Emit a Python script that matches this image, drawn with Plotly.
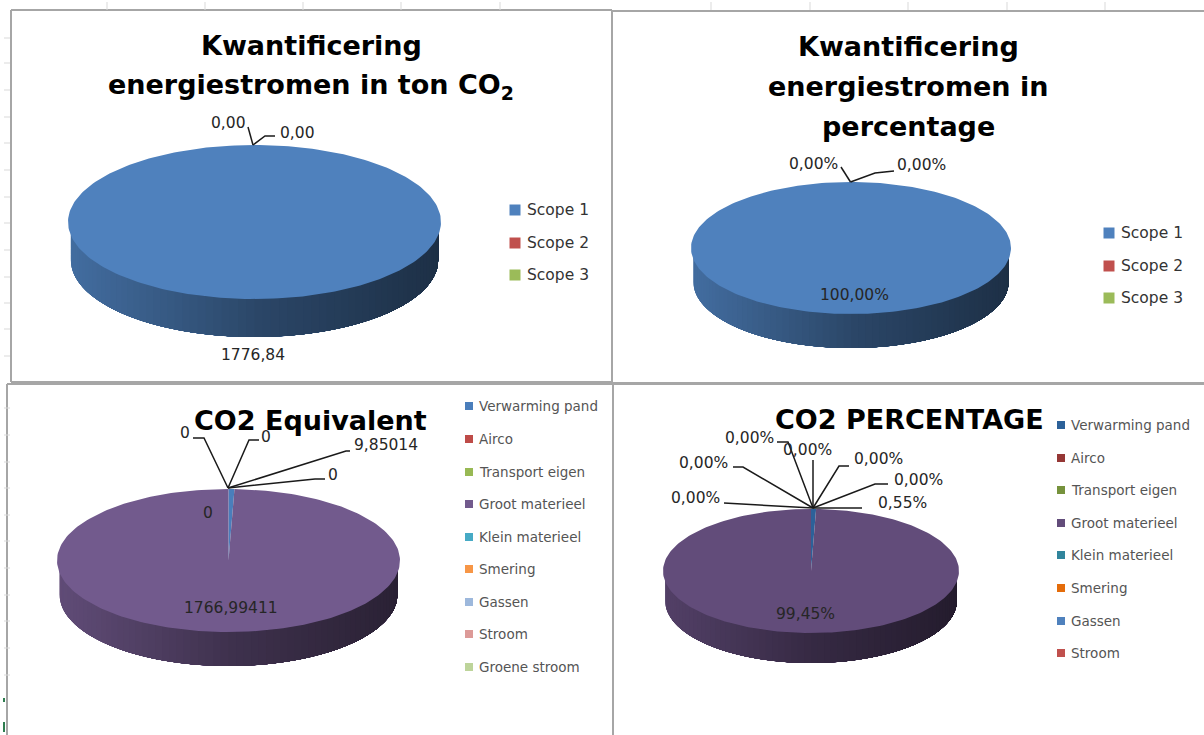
import math
import plotly.graph_objects as go

# ---------- data ----------
scope_labels = ["Scope 1", "Scope 2", "Scope 3"]
scope_tons = [1776.84, 0, 0]
scope_percent = [100.0, 0, 0]
co2_labels = ["Verwarming pand", "Airco", "Transport eigen", "Groot materieel", "Klein materieel",
              "Smering", "Gassen", "Stroom", "Groene stroom"]
co2_values = [9.85014, 0, 0, 1766.99411, 0, 0, 0, 0, 0]
pct_labels = ["Verwarming pand", "Airco", "Transport eigen", "Groot materieel", "Klein materieel",
              "Smering", "Gassen", "Stroom"]
pct_values = [0.55, 0, 0, 99.45, 0, 0, 0, 0]

scope_colors = ["#4F81BD", "#C0504D", "#9BBB59"]
co2_colors = ["#4A7EBB", "#BE4B48", "#98B954", "#725A8D", "#46AAC5", "#F79646", "#9DB8DC", "#DC9A98", "#BDD49A"]
pct_colors = ["#2C6199", "#953735", "#76923C", "#624C7A", "#31859C", "#E46C0A", "#4F81BD", "#C0504D"]

FONT = "DejaVu Sans"
TITLE = 27
LABEL = 15.5
fig = go.Figure()


def hex_rgb(h):
    return tuple(int(h[i:i + 2], 16) for i in (1, 3, 5))


def wall_color(base, t):
    """Shade of the pie wall; t runs 0 (left) to 1 (right)."""
    r = hex_rgb(base)
    f = 0.85 - 0.6 * t if t < 0.5 else 0.55 - 0.36 * (t - 0.5)
    return "rgb(%d,%d,%d)" % tuple(int(c * f) for c in r)


def point(cx, cy, rx, ry, a):
    return cx + rx * math.sin(a), cy - ry * math.cos(a)


def poly(xs, ys, color):
    fig.add_trace(go.Scatter(x=xs, y=ys, mode="lines", fill="toself", fillcolor=color,
                             line=dict(color=color, width=0), hoverinfo="skip", showlegend=False))


def draw_pie(values, colors, cx, cy, rx, ry, depth):
    total = sum(values)
    start = 0.0
    for val, col in zip(values, colors):
        if val <= 0:
            continue
        end = start + val / total * 2 * math.pi
        # front wall: bands painted left to right, each one reaching to the far end, so no seams show
        lo, hi = max(start, math.pi / 2), min(end, 3 * math.pi / 2)
        if hi > lo:
            n = 70
            for i in range(n):
                a0 = hi - (hi - lo) * i / n
                arc = [point(cx, cy, rx * 0.985, ry, a0 - (a0 - lo) * k / 40) for k in range(41)]
                xs = [p[0] for p in arc]
                ys = [p[1] for p in arc]
                t = (arc[0][0] - (cx - rx)) / (2 * rx)
                poly(xs + xs[::-1], ys + [y + depth for y in ys[::-1]], wall_color(col, t))
        start = end
    start = 0.0
    for val, col in zip(values, colors):
        if val <= 0:
            continue
        end = start + val / total * 2 * math.pi
        n = max(2, int((end - start) / (2 * math.pi) * 240))
        pts = [point(cx, cy, rx, ry, start + (end - start) * i / n) for i in range(n + 1)]
        poly([cx] + [p[0] for p in pts] + [cx], [cy] + [p[1] for p in pts] + [cy], col)
        start = end


def text(x, y, s, size=LABEL, color="#262626", bold=False, anchor="center"):
    fig.add_annotation(x=x, y=y, xref="x", yref="y", text=f"<b>{s}</b>" if bold else s, showarrow=False,
                       xanchor=anchor, yanchor="middle",
                       font=dict(family=FONT, size=size, color=color))


def legend(labels, colors, x, ys, size, tcolor, box):
    for lab, col, y in zip(labels, colors, ys):
        fig.add_trace(go.Scatter(x=[x], y=[y], mode="markers", hoverinfo="skip", showlegend=False,
                                 marker=dict(symbol="square", size=box, color=col)))
        text(x + box / 2 + 4, y, lab, size=size, color=tcolor, anchor="left")


def leader(pts):
    fig.add_trace(go.Scatter(x=[p[0] for p in pts], y=[p[1] for p in pts], mode="lines", hoverinfo="skip",
                             showlegend=False, line=dict(color="#1a1a1a", width=1.5)))


def comma(v, d=2):
    return f"{v:.{d}f}".replace(".", ",")


# ---------- panel 1 ----------
draw_pie(scope_tons, scope_colors, 254.5, 222, 186.5, 77, 38)
text(311, 45, "Kwantificering", TITLE, "#000", True)
text(311, 86, "energiestromen in ton CO<sub>2</sub>", TITLE, "#000", True)
leader([(253, 145), (248, 127)])
leader([(253, 145), (265, 136), (275, 136)])
text(228, 123, comma(scope_tons[1]))
text(297, 133, comma(scope_tons[2]))
text(253, 355, comma(scope_tons[0]))
legend(scope_labels, scope_colors, 515, [210, 243, 275], 15.5, "#333", 11)

# ---------- panel 2 ----------
draw_pie(scope_percent, scope_colors, 851, 248, 160, 66, 34)
text(908, 46, "Kwantificering", TITLE, "#000", True)
text(908, 86, "energiestromen in", TITLE, "#000", True)
text(908, 126, "percentage", TITLE, "#000", True)
leader([(850.5, 182), (841, 167)])
leader([(850.5, 182), (875, 173), (894, 171)])
text(813, 164, comma(scope_percent[1]) + "%")
text(921, 165, comma(scope_percent[2]) + "%")
text(854, 295, comma(scope_percent[0]) + "%")
legend(scope_labels, scope_colors, 1109, [233, 266, 298], 15.5, "#333", 11)

# ---------- panel 3 ----------
draw_pie(co2_values, co2_colors, 228.5, 560.5, 171.5, 71.5, 34)
text(310, 420, "CO2 Equivalent", TITLE, "#000", True)
leader([(228, 488), (204, 438), (193, 438)])
leader([(228, 488), (249, 440), (259, 440)])
leader([(228, 488), (346, 451), (350, 451)])
leader([(228, 488), (315, 479), (325, 479)])
text(185, 433, comma(co2_values[1], 0))
text(266, 437, comma(co2_values[2], 0))
text(386, 445, comma(co2_values[0], 5))
text(333, 475, comma(co2_values[4], 0))
text(208, 513, comma(co2_values[5], 0))
text(231, 608, comma(co2_values[3], 5))
legend(co2_labels, co2_colors, 469, [406, 439, 472, 504, 537, 569, 602, 634, 667], 13.5, "#555", 8)

# ---------- panel 4 ----------
draw_pie(pct_values, pct_colors, 811, 571, 148, 62, 30)
text(909, 419, "CO2 PERCENTAGE", TITLE, "#000", True)
leader([(813, 508), (862, 508)])
leader([(813, 508), (875, 484), (888, 484)])
leader([(813, 508), (839, 466), (849, 466)])
leader([(813, 508), (813, 460)])
leader([(813, 508), (788, 442), (777, 442)])
leader([(813, 508), (743, 467), (733, 467)])
leader([(813, 508), (724, 503)])
text(902, 503, comma(pct_values[0]) + "%")
text(918, 480, comma(pct_values[1]) + "%")
text(878, 459, comma(pct_values[2]) + "%")
text(807, 450, comma(pct_values[4]) + "%")
text(749, 438, comma(pct_values[5]) + "%")
text(703, 463, comma(pct_values[6]) + "%")
text(695, 498, comma(pct_values[7]) + "%")
text(805, 614, comma(pct_values[3]) + "%")
legend(pct_labels, pct_colors, 1061, [425, 458, 490, 523, 555, 588, 621, 653], 13.5, "#555", 8)

# ---------- window dressing: chart frames and spreadsheet grid stubs ----------
shapes = []
GRAY = "#A6A6A6"


def seg(x0, y0, x1, y1, color=GRAY, width=2):
    shapes.append(dict(type="line", xref="x", yref="y", x0=x0, y0=y0, x1=x1, y1=y1,
                       line=dict(color=color, width=width), layer="below"))


seg(11, 10, 612, 10); seg(11, 10, 11, 382); seg(11, 382, 612, 382); seg(612, 10, 612, 382)
seg(612, 11, 1204, 11); seg(612, 383, 1204, 383)
seg(7, 384, 612, 384); seg(7, 384, 7, 735); seg(613, 384, 613, 735)
seg(614, 384, 1204, 384)
for x in [107, 205, 303, 401, 500, 711, 810, 908, 1007, 1105]:
    seg(x, 2, x, 10, "#D9D9D9", 1)
for y in [38, 63, 90, 117, 143, 170, 197, 223, 250, 277, 303, 329, 356,
          408, 435, 462, 488, 515, 541, 568, 595, 621, 648, 675]:
    seg(4, y, 10, y, "#D9D9D9", 1)
seg(4, 698, 4, 702, "#2E7D4F", 2)
seg(4, 722, 4, 732, "#2E7D4F", 2)

fig.update_layout(
    width=1204, height=735, margin=dict(l=0, r=0, t=0, b=0), autosize=False,
    paper_bgcolor="white", plot_bgcolor="white", showlegend=False, shapes=shapes,
    xaxis=dict(range=[0, 1204], visible=False, fixedrange=True),
    yaxis=dict(range=[735, 0], visible=False, fixedrange=True),
)
fig.write_html("out.html", config=dict(displayModeBar=False),
               post_script="document.body.style.margin='0';document.documentElement.style.overflow='hidden';")
